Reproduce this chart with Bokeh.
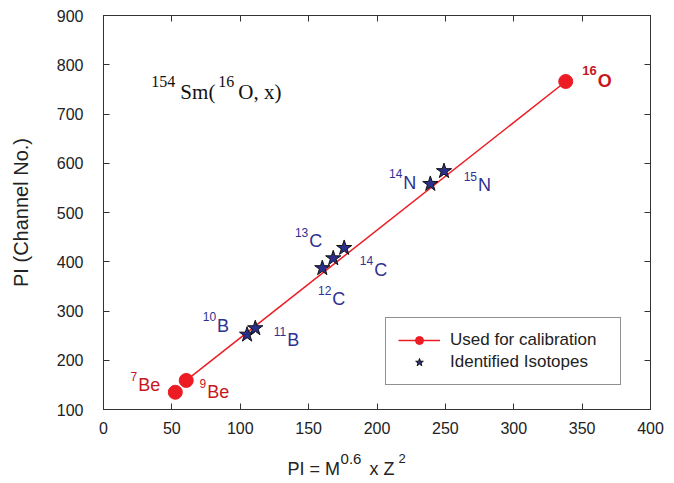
import numpy as np
from bokeh.plotting import figure
from bokeh.layouts import column
from bokeh.models import (Range1d, LinearAxis, FixedTicker, ColumnDataSource,
                          Legend, LegendItem)
from bokeh.core.properties import value
from bokeh.embed import file_html
from bokeh.resources import INLINE

# ---------------- data ----------------
cal_mass = ["7", "9", "16"]
cal_sym = ["Be", "Be", "O"]
cal_x = [52.5, 60.5, 338.0]
cal_y = [135, 159, 766]

iso_mass = ["10", "11", "12", "13", "14", "14", "15"]
iso_sym = ["B", "B", "C", "C", "C", "N", "N"]
iso_x = [105.0, 111.0, 160.0, 168.0, 176.0, 239.0, 249.0]
iso_y = [252, 265, 387, 407, 428, 558, 584]

x_ticks = [0, 50, 100, 150, 200, 250, 300, 350, 400]
y_ticks = [100, 200, 300, 400, 500, 600, 700, 800, 900]

# label placement (screen px offsets from each point, down = positive)
cal_dx = [-37, 21, 32]
cal_dy = [-7, 12, 0]
iso_dx = [-30, 32, 10, -24, 30, -27, 34]
iso_dy = [-9, 12, 31, -17, 22, -1, 14]

RED = "#ed1c24"
DRED = "#c8161e"
BLUE = "#2e3192"
AX = "#333333"
TXT = "#222222"
SANS = "Liberation Sans"
SERIF = "Liberation Serif"

W = 674
L_B, R_B = 103, 24

p = figure(width=W, height=445, output_backend="svg", toolbar_location=None,
           x_range=Range1d(0, 400), y_range=Range1d(100, 900),
           min_border_left=L_B, min_border_right=R_B, min_border_top=15,
           min_border_bottom=36)
p.xgrid.visible = False
p.ygrid.visible = False
p.outline_line_color = AX
p.background_fill_color = "white"
p.border_fill_color = "white"

# extra top / right axes with inward ticks
top = LinearAxis()
right = LinearAxis()
p.add_layout(top, "above")
p.add_layout(right, "right")

for ax in p.xaxis:
    ax.ticker = FixedTicker(ticks=x_ticks)
for ax in p.yaxis:
    ax.ticker = FixedTicker(ticks=y_ticks)
for ax in list(p.xaxis) + list(p.yaxis):
    ax.major_tick_in = 6
    ax.major_tick_out = 0
    ax.minor_tick_line_color = None
    ax.axis_line_color = AX
    ax.major_tick_line_color = AX
    ax.major_label_text_font = SANS
    ax.major_label_text_color = TXT
    ax.major_label_text_font_size = "16px"

top.major_label_overrides = {t: "" for t in x_ticks}
right.major_label_overrides = {t: "" for t in y_ticks}
for ax in (top, right):
    ax.major_label_standoff = 0

bottom = p.below[0]
left = p.left[0]
bottom.major_label_standoff = 12
left.major_label_standoff = 20
left.axis_label = "PI (Channel No.)"
left.axis_label_text_font = SANS
left.axis_label_text_font_size = "20px"
left.axis_label_text_font_style = "normal"
left.axis_label_text_color = TXT
left.axis_label_standoff = 22

# ---------------- marks ----------------
fit_line = p.line(cal_x[1:], cal_y[1:], line_color=RED, line_width=1.5)
cal_r = p.scatter(cal_x, cal_y, marker="circle", size=14,
                  fill_color=RED, line_color=RED)
iso_r = p.scatter(iso_x, iso_y, marker="star", size=16,
                  fill_color="#2b2f8c", line_color="#111111", line_width=1)

# ---------------- point labels ----------------
def mk_src(xs, ys, syms, masses, dxs, dys, sup_shift):
    return ColumnDataSource(dict(
        x=xs, y=ys, sym=syms, mass=masses, dx=dxs, dy=dys,
        mdx=[d - 1 for d in dxs], mdy=[d - sup_shift for d in dys]))

be_src = mk_src(cal_x[:2], cal_y[:2], cal_sym[:2], cal_mass[:2],
                cal_dx[:2], cal_dy[:2], 9)
o_src = mk_src(cal_x[2:], cal_y[2:], cal_sym[2:], cal_mass[2:],
               cal_dx[2:], cal_dy[2:], 11)
iso_src = mk_src(iso_x, iso_y, iso_sym, iso_mass, iso_dx, iso_dy, 9)

for src, col, style, fs_sym, fs_sup in ((be_src, DRED, "normal", "18px", "12px"),
                                        (o_src, DRED, "bold", "18px", "13px"),
                                        (iso_src, BLUE, "normal", "18px", "12px")):
    p.text(x="x", y="y", text="sym", x_offset="dx", y_offset="dy", source=src,
           text_font=value(SANS), text_font_size=value(fs_sym), text_color=col,
           text_font_style=style, text_align="left", text_baseline="middle")
    p.text(x="x", y="y", text="mass", x_offset="mdx", y_offset="mdy", source=src,
           text_font=value(SANS), text_font_size=value(fs_sup), text_color=col,
           text_font_style=style, text_align="right", text_baseline="middle")

# ---------------- reaction title ----------------
title_parts = ["154", "Sm(", "16", "O, x)"]
title_dx = [0, 29, 67, 87]
title_dy = [-10, 0, -10, 0]
title_fs = ["16px", "21px", "16px", "21px"]
title_src = ColumnDataSource(dict(x=[35.0] * 4, y=[745.0] * 4, t=title_parts,
                                  dx=title_dx, dy=title_dy, fs=title_fs))
p.text(x="x", y="y", text="t", x_offset="dx", y_offset="dy", source=title_src,
       text_font=value(SERIF), text_font_size="fs", text_color="#111111",
       text_align="left", text_baseline="middle")

# ---------------- legend ----------------
legend = Legend(items=[
    LegendItem(label="Used for calibration", renderers=[fit_line, cal_r]),
    LegendItem(label="Identified Isotopes", renderers=[iso_r]),
], location=(282, 24))
legend.label_text_font = SANS
legend.label_text_font_size = "17px"
legend.label_text_color = TXT
legend.glyph_width = 42
legend.glyph_height = 20
legend.label_height = 20
legend.label_width = 158
legend.label_standoff = 10
legend.padding = 12
legend.spacing = 2
legend.margin = 0
legend.border_line_color = TXT
legend.border_line_width = 1
legend.background_fill_color = "white"
legend.background_fill_alpha = 1
p.add_layout(legend, "center")

# ---------------- x axis title (own strip below, shares x scale) ----------------
q = figure(width=W, height=38, output_backend="svg", toolbar_location=None,
           x_range=p.x_range, y_range=Range1d(0, 38),
           x_axis_type=None, y_axis_type=None,
           min_border_left=L_B, min_border_right=R_B, min_border_top=0,
           min_border_bottom=0)
q.xgrid.visible = False
q.ygrid.visible = False
q.outline_line_color = None
q.background_fill_color = "white"
q.border_fill_color = "white"

xl_parts = ["PI = M", "0.6", " x Z", "2"]
xl_dx = [0, 53, 82, 111]
xl_dy = [0, -10, 0, -10]
xl_fs = ["18px", "15px", "18px", "13px"]
xl_src = ColumnDataSource(dict(x=[134.6] * 4, y=[15.0] * 4, t=xl_parts,
                               dx=xl_dx, dy=xl_dy, fs=xl_fs))
q.text(x="x", y="y", text="t", x_offset="dx", y_offset="dy", source=xl_src,
       text_font=value(SANS), text_font_size="fs", text_color=TXT,
       text_align="left", text_baseline="middle")

layout = column(p, q, spacing=0)
open("out.html", "w").write(file_html(layout, INLINE))
